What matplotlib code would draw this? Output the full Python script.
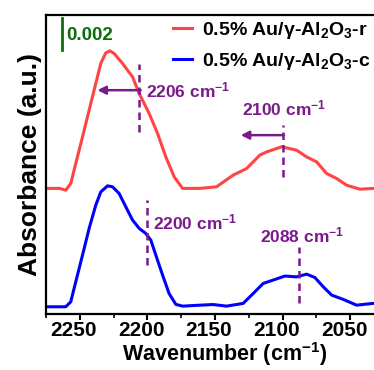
import matplotlib
matplotlib.use('Agg')
import matplotlib.pyplot as plt
import matplotlib.transforms as mtransforms
from matplotlib.ticker import MultipleLocator

plt.rcParams['font.family'] = ['Liberation Sans', 'DejaVu Sans']
plt.rcParams['font.weight'] = 'bold'
plt.rcParams['mathtext.fontset'] = 'custom'
plt.rcParams['mathtext.bf'] = 'Liberation Sans:bold'
plt.rcParams['mathtext.rm'] = 'Liberation Sans:bold'
plt.rcParams['mathtext.default'] = 'bf'

# 스펙트럼 데이터
wn_r = [2275, 2265, 2260.4, 2256.7, 2253, 2248, 2243.1, 2238.2, 2234.5, 2230.8,
        2227.8, 2224.6, 2218.4, 2211, 2206.1, 2198.7, 2192.5, 2186.4, 2180.2,
        2174, 2161.2, 2148.9, 2136.6, 2126.7, 2116.9, 2111.9, 2100.8, 2089.7,
        2082.3, 2074.9, 2067.5, 2060.1, 2052.7, 2042.9, 2033]
abs_r = [0.00786, 0.00786, 0.00775, 0.00817, 0.00942, 0.01108, 0.01275, 0.01442,
         0.01567, 0.01633, 0.01646, 0.01629, 0.01567, 0.01483, 0.01379, 0.01254,
         0.01129, 0.00983, 0.00858, 0.00786, 0.00786, 0.00796, 0.00869, 0.00910,
         0.00994, 0.01014, 0.01046, 0.01025, 0.00983, 0.00952, 0.00879, 0.00848,
         0.00806, 0.00781, 0.00786]

wn_c = [2275, 2260.4, 2256.7, 2253, 2248, 2243.1, 2238.2, 2234.5, 2229.5, 2225.8,
        2220.9, 2216, 2211, 2206.1, 2201.2, 2197.5, 2193.8, 2188.8, 2184, 2179,
        2174, 2161.2, 2151.4, 2141.5, 2129.2, 2121.8, 2114.4, 2107, 2098.4,
        2089.7, 2082.3, 2076.2, 2070, 2063.8, 2055.2, 2045.3, 2037.9, 2033]
abs_c = [0.00046, 0.00046, 0.00077, 0.00202, 0.00369, 0.00536, 0.00681, 0.00764,
         0.00802, 0.00796, 0.00754, 0.00671, 0.00588, 0.00536, 0.00504, 0.00463,
         0.00369, 0.00244, 0.00129, 0.00061, 0.0005, 0.00056, 0.0006, 0.0005,
         0.00067, 0.00129, 0.00192, 0.00213, 0.00238, 0.00233, 0.0025, 0.00229,
         0.00171, 0.00119, 0.00092, 0.00056, 0.00063, 0.00067]

labels = ['0.5% Au/γ-Al$_2$O$_3$-r', '0.5% Au/γ-Al$_2$O$_3$-c']
colors = ['#ff4444', '#0000ff']

# 피크 표시: 파수, 점선 범위, 텍스트 위치
peaks = [2206, 2100, 2200, 2088]
peak_lo = [0.01138, 0.00856, 0.00306, 0.00069]
peak_hi = [0.01563, 0.01181, 0.00713, 0.00419]
text_x = [2201, 2130, 2196, 2117]
text_y = [0.0140, 0.01288, 0.00575, 0.00494]
arrow_y = [0.0140, 0.01119]
arrow_to = [2237, 2131]

purple = '#7a1a8c'
green = '#0a6e0a'

fig = plt.figure(figsize=(3.74, 3.70), dpi=100)
ax = fig.add_axes([0.123, 0.151, 0.904, 0.808])

ax.plot(wn_r, abs_r, color=colors[0], lw=2.2, label=labels[0], solid_joinstyle='round')
ax.plot(wn_c, abs_c, color=colors[1], lw=2.2, label=labels[1], solid_joinstyle='round')

for i in range(len(peaks)):
    ax.plot([peaks[i], peaks[i]], [peak_lo[i], peak_hi[i]], color=purple,
            lw=1.8, ls=(0, (3, 2)))
    ax.text(text_x[i], text_y[i], f'{peaks[i]} cm$^{{-1}}$', color=purple,
            fontsize=12.5, fontweight='bold', ha='left', va='center')

for i in range(len(arrow_y)):
    ax.annotate('', xy=(arrow_to[i], arrow_y[i]), xytext=(peaks[i] - 1, arrow_y[i]),
                arrowprops=dict(arrowstyle='-|>', color=purple, lw=1.8,
                                mutation_scale=12, shrinkA=0, shrinkB=0))

# 스케일 바
ax.plot([2263, 2263], [0.0165, 0.0185], color=green, lw=2)
ax.text(2260, 0.01744, '0.002', color=green, fontsize=13.5,
        fontweight='bold', ha='left', va='center')

ax.set_xlim(2275, 2025)
ax.set_ylim(0, 0.01869)
ax.xaxis.set_major_locator(MultipleLocator(50))
ax.xaxis.set_minor_locator(MultipleLocator(25))
ax.set_yticks([])
ax.tick_params(axis='x', which='major', length=4, width=1.5, labelsize=15, pad=1)
ax.tick_params(axis='x', which='minor', length=3, width=1.2)
shift = mtransforms.ScaledTranslation(-6 / 100, 0, fig.dpi_scale_trans)
for lbl in ax.get_xticklabels():
    lbl.set_fontweight('bold')
    lbl.set_transform(lbl.get_transform() + shift)
for sp in ax.spines.values():
    sp.set_linewidth(1.6)

ax.set_xlabel('Wavenumber (cm$^{-1}$)', fontsize=15.5, fontweight='bold')
ax.xaxis.set_label_coords(0.527, -0.088)
ax.set_ylabel('Absorbance (a.u.)', fontsize=19, fontweight='bold', labelpad=3)

ax.legend(loc='upper left', bbox_to_anchor=(173 / 374, 1 - 20 / 370),
          bbox_transform=fig.transFigure, frameon=False, fontsize=14,
          handlelength=1.0, handletextpad=0.5, labelspacing=0.5,
          borderaxespad=0, borderpad=0)

fig.savefig('out.png', dpi=100)
